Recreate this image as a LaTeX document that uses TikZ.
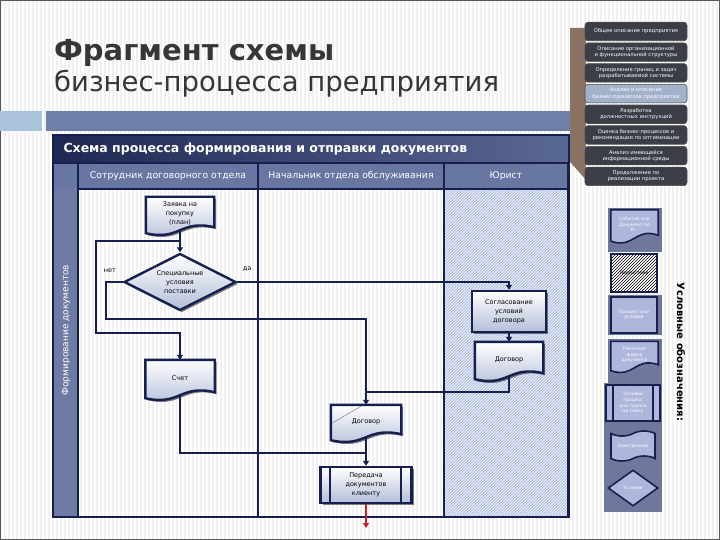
\documentclass[tikz,border=0pt]{standalone}
\usepackage{fontspec}
\setmainfont{DejaVu Sans}
\usetikzlibrary{shapes.geometric,shapes.symbols,arrows.meta,shadows,patterns,calc}
\definecolor{navy}{HTML}{15204E}
\definecolor{hdrL}{HTML}{1E2853}
\definecolor{hdrR}{HTML}{5A6894}
\definecolor{colhdr}{HTML}{6877A2}
\definecolor{stripcol}{HTML}{6E7CA5}
\definecolor{jur}{HTML}{B6C4E4}
\definecolor{shapeB}{HTML}{B4BED8}
\definecolor{titlegray}{HTML}{363636}
\definecolor{menudark}{HTML}{3B3E47}
\definecolor{menuhi}{HTML}{A3B2CB}
\definecolor{brownband}{HTML}{8A7264}
\definecolor{barblue}{HTML}{6F7FA7}
\definecolor{barlight}{HTML}{A9C3DB}
\definecolor{legbg}{HTML}{6E789C}
\definecolor{legin}{HTML}{AEB6DB}
\definecolor{stripe}{HTML}{F1F1F1}
\definecolor{redarrow}{HTML}{C8201E}
\pgfdeclarelayer{bglayer}
\pgfdeclarelayer{shplayer}
\pgfsetlayers{bglayer,shplayer,main}

\newcommand{\mydocpath}[2]{%
  \begin{pgfonlayer}{shplayer}
  \path[#1] (#2.north west) -- (#2.north east) -- ($(#2.south east)+(0,4pt)$)
    .. controls ($(#2.south)+(0,12pt)$) and ($(#2.south)+(0,-10pt)$) ..
    ($(#2.south west)+(0,-2pt)$) -- cycle;
  \end{pgfonlayer}}

\begin{document}
\begin{tikzpicture}[x=1pt,y=-1pt,
  every node/.style={font=\fontsize{6.5}{9}\selectfont},
  shad/.style={drop shadow={shadow xshift=2pt,shadow yshift=-2pt,opacity=0.5,fill=black}},
  docfill/.style={draw=navy,line width=2.4pt,top color=white,bottom color=shapeB,shad},
  docnode/.style={align=center,minimum width=68pt,minimum height=34pt,inner sep=0pt},
  proc/.style={draw=navy,line width=2.4pt,top color=white,bottom color=shapeB,shad,align=center,inner sep=0pt},
  dec/.style={diamond,shape aspect=2,draw=navy,line width=2.4pt,top color=white,bottom color=shapeB,shad,
    align=center,inner sep=0pt,minimum width=112pt,minimum height=57pt},
  flow/.style={draw=navy,line width=1.9pt,-{Triangle[width=6pt,length=5pt]}},
  conn/.style={draw=navy,line width=1.9pt},
  menu/.style={rounded corners=3pt,fill=menudark,draw=gray!60!black,line width=0.6pt,text=white,
    minimum width=102pt,minimum height=18.5pt,align=center,inner sep=0pt,font=\fontsize{5.2}{6.2}\selectfont},
  legdoc/.style={draw=navy,line width=1.6pt,fill=legin},
  legtext/.style={text=white,font=\fontsize{4.5}{5.6}\selectfont,align=center,inner sep=0pt},
  legbox/.style={legtext,draw=navy,line width=1.6pt,fill=legin},
  hdrtext/.style={text=white,font=\fontsize{9.3}{9.3}\selectfont}
]
\useasboundingbox (0,0) rectangle (720,540);

\begin{pgfonlayer}{bglayer}
\fill[white] (0,0) rectangle (720,540);
\foreach \i in {1,5,...,720} \draw[stripe,line width=1.3pt] (\i,0) -- (\i,540);
\draw[gray!70!black,line width=1pt] (0.5,0.5) rectangle (719.5,539.5);
% top bars
\fill[barlight] (0,111) rectangle (42,131);
\fill[barblue] (46,111) rectangle (570,131);
\fill[brownband] (570,28) -- (586,28) -- (586,180) -- (556,146) -- (556,135) -- (570,135) -- cycle;
% diagram frame
\fill[left color=hdrL,right color=hdrR] (53,135) rectangle (569,163);
\fill[colhdr] (53,163) rectangle (569,189);
\fill[stripcol] (53,189) rectangle (78,517);
\fill[jur] (444,189) rectangle (569,517);
\fill[pattern=north east lines,pattern color=white] (444,189) rectangle (569,517);
\draw[navy,line width=1.5pt] (53,135) rectangle (569,517);
\draw[navy,line width=1.5pt] (53,163) -- (569,163);
\draw[navy,line width=2pt] (78,189) -- (569,189);
\draw[navy,line width=1.5pt] (78,163) -- (78,517);
\draw[navy,line width=1.5pt] (258,163) -- (258,517);
\draw[navy,line width=2.4pt] (444,163) -- (444,517);
\draw[navy,line width=2.4pt] (568,163) -- (568,517);
% legend backgrounds
\fill[legbg] (608,208) rectangle (662,252);
\fill[legbg] (608,295) rectangle (662,335);
\fill[legbg] (608,339) rectangle (662,383);
\fill[legbg] (604,383) rectangle (662,512);
\end{pgfonlayer}

% title
\node[anchor=base west,inner sep=0pt,text=titlegray,font=\fontsize{29}{29}\bfseries\selectfont] (t1) at (54,61) {Фрагмент схемы};
\node[anchor=base west,inner sep=0pt,text=titlegray,font=\fontsize{27.5}{27.5}\selectfont] (t2) at (54,92) {бизнес-процесса предприятия};

% menu
\node[menu] (m1) at (636,31.5) {Общее описание предприятия};
\node[menu] (m2) at (636,52.2) {Описание организационной\\и функциональной структуры};
\node[menu] (m3) at (636,72.9) {Определение границ и задач\\разрабатываемой системы};
\node[menu,fill=menuhi] (m4) at (636,93.6) {Анализ и описание\\бизнес-процессов предприятия};
\node[menu] (m5) at (636,114.3) {Разработка\\должностных инструкций};
\node[menu] (m6) at (636,135) {Оценка бизнес-процессов и\\рекомендации по оптимизации};
\node[menu] (m7) at (636,155.7) {Анализ имеющейся\\информационной среды};
\node[menu] (m8) at (636,176.4) {Продолжение по\\реализации проекта};

% headers
\node[anchor=west,text=white,font=\fontsize{12.5}{12.5}\bfseries\selectfont] (dtitle) at (60,149) {Схема процесса формирования и отправки документов};
\node[hdrtext] (h1) at (168,176) {Сотрудник договорного отдела};
\node[hdrtext] (h2) at (351,176) {Начальник отдела обслуживания};
\node[hdrtext] (h3) at (506,176) {Юрист};
\node[rotate=90,text=white,font=\fontsize{9}{9}\selectfont] (lanelbl) at (66,330) {Формирование документов};

% flowchart nodes
\node[docnode] (zay) at (180,214) {Заявка на\\покупку\\(план)};
\mydocpath{docfill}{zay}
\node[dec] (dia) at (180,282) {Специальные\\условия\\поставки};
\node[docnode,minimum width=69pt,minimum height=36pt] (sch) at (180,378) {Счет};
\mydocpath{docfill}{sch}
\node[proc,minimum width=74pt,minimum height=41pt] (sog) at (509,311.5) {Согласование\\условий\\договора};
\node[docnode,minimum width=68pt,minimum height=35pt] (dog1) at (509,359.5) {Договор};
\mydocpath{docfill}{dog1}
\node[docnode,minimum width=70pt,minimum height=33pt] (dog2) at (366,421.5) {Договор};
\mydocpath{docfill}{dog2}
\node[proc,minimum width=91pt,minimum height=36pt] (per) at (366,485) {Передача\\документов\\клиенту};
\draw[navy,line width=2pt] ([xshift=11pt]per.north west) -- ([xshift=11pt]per.south west);
\draw[navy,line width=2pt] ([xshift=-12pt]per.north east) -- ([xshift=-12pt]per.south east);
\draw[gray,line width=0.5pt] ([xshift=2pt,yshift=-18pt]dog2.north west) -- ([xshift=31pt,yshift=-1pt]dog2.north west);

\node (net) at (110,271) {нет};
\node (da) at (247,269) {да};

% coordinates
\coordinate (j1) at (180,241);
\coordinate (c1) at (96,241);
\coordinate (c2) at (96,333);
\coordinate (n1) at (106,319);
\coordinate (j2) at (366,392);
\coordinate (j3) at (366,453);
\coordinate (endp) at (366,528);

% connectors
\draw[flow] (zay.south) -- (dia.north);
\draw[flow] (j1) -- (c1) -- (c2) -| (sch.north);
\draw[flow] (dia.west) -| (n1) -| (dog2.north);
\draw[flow] (dia.east) -| (sog.north);
\draw[flow] (sog.south) -- (dog1.north);
\draw[conn] (dog1.south) |- (j2);
\draw[conn] (sch.south) |- (j3);
\draw[flow] (dog2.south) -- (per.north);
\draw[flow,draw=redarrow] (per.south) -- (endp);

% legend
\node[legtext,minimum width=47pt,minimum height=29pt] (l1) at (634.5,224.5) {Событие или\\Документ по\\И...};
\mydocpath{legdoc}{l1}
\node[draw=navy,line width=1.8pt,preaction={fill=white},pattern=north east lines,minimum width=46pt,minimum height=38pt,
  inner sep=0pt,font=\fontsize{4.5}{5}\selectfont] (l2) at (634,273) {Подсистема};
\node[legbox,minimum width=46pt,minimum height=36pt] (l3) at (634,315) {Процесс или\\условие};
\node[legtext,minimum width=47pt,minimum height=27pt] (l4) at (634.5,355) {Печатная\\форма\\документа};
\mydocpath{legdoc}{l4}
\node[legbox,minimum width=54pt,minimum height=36pt] (l5) at (633,403) {Типовой\\процесс\\или ссылка\\на схему};
\draw[navy,line width=1.6pt] ([xshift=8pt]l5.north west) -- ([xshift=8pt]l5.south west);
\draw[navy,line width=1.6pt] ([xshift=-8pt]l5.north east) -- ([xshift=-8pt]l5.south east);
\node[tape,legbox,minimum width=44pt,minimum height=30pt] (l6) at (633,446) {Электронная};
\node[diamond,legbox,minimum width=50pt,minimum height=36pt] (l7) at (633,488) {Условие};
\node[rotate=-90,font=\fontsize{10}{10}\bfseries\selectfont] (legt) at (681,352) {Условные обозначения:};
\end{tikzpicture}
\end{document}
